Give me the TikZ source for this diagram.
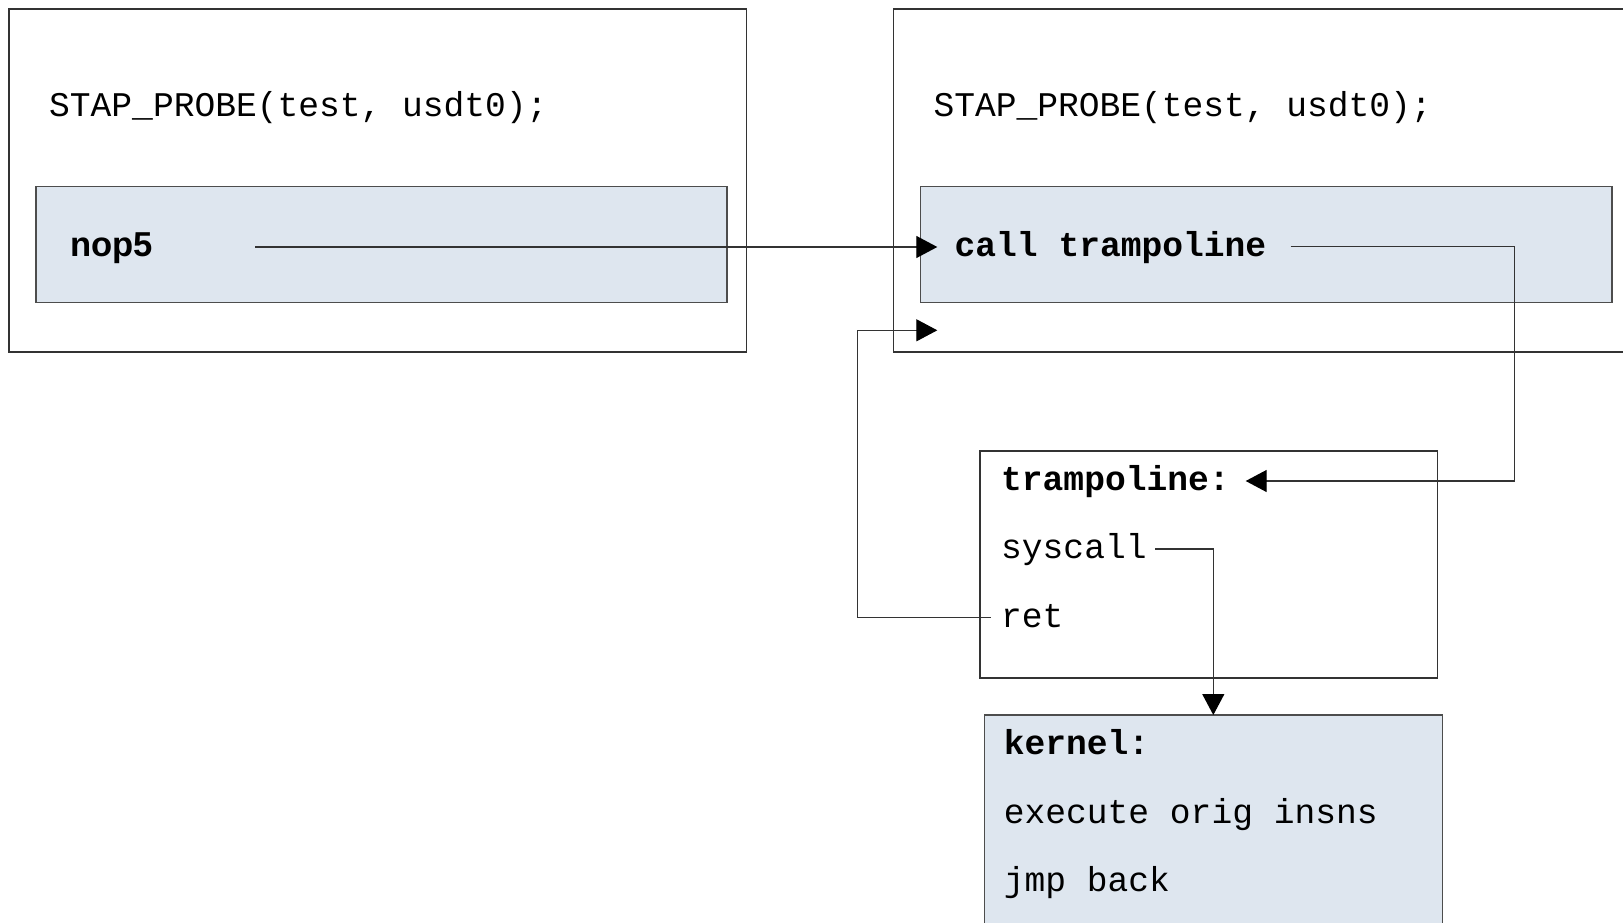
\documentclass[tikz,border=0pt]{standalone}
\usepackage{fontspec}
\setmainfont{Liberation Sans}
\setmonofont{Liberation Mono}
\usetikzlibrary{arrows.meta}
\definecolor{boxfill}{HTML}{DEE6EF}
\definecolor{linegray}{HTML}{333333}
\definecolor{boxline}{HTML}{4D4D4D}
\begin{document}
\begin{tikzpicture}[x=1pt,y=-1pt,
  outerbox/.style={draw=linegray, line width=1.3pt, fill=white, anchor=north west, inner sep=0pt, outer sep=0pt},
  innerbox/.style={draw=boxline, line width=1.3pt, fill=boxfill, anchor=north west, inner sep=0pt, outer sep=0pt},
  code/.style={font=\fontsize{34.6}{40}\selectfont\ttfamily, anchor=base west, inner sep=0pt},
  bcode/.style={code, font=\fontsize{34.6}{40}\selectfont\ttfamily\bfseries},
  sanslabel/.style={font=\fontsize{34.6}{40}\selectfont\bfseries, anchor=base west, inner sep=0pt},
  conn/.style={draw=linegray, line width=1.3pt},
  arr/.style={conn, -{Triangle[length=21pt,width=22pt,color=black]}}
]
\useasboundingbox (0,0) rectangle (1623,923);
\clip (0,0) rectangle (1623,923);

% boxes
\node[outerbox, minimum width=737.5pt, minimum height=343pt] (leftbox) at (9,9) {};
\node[innerbox, minimum width=691pt, minimum height=115.5pt] (nopbox) at (36,186.7) {};
\node[outerbox, minimum width=760pt, minimum height=343pt] (rightbox) at (893.7,9) {};
\node[innerbox, minimum width=691.3pt, minimum height=115.5pt] (callbox) at (920.7,186.7) {};
\node[outerbox, minimum width=457.7pt, minimum height=227pt] (trampbox) at (980,451) {};
\node[innerbox, minimum width=458pt, minimum height=240pt] (kernbox) at (984.3,715) {};

% texts
\node[code] (probeL) at (49,116.7) {STAP\_PROBE(test, usdt0);};
\node[sanslabel] (nop) at (70,256) {nop5};
\node[code] (probeR) at (933.3,116.7) {STAP\_PROBE(test, usdt0);};
\node[bcode] (call) at (954.5,256) {call trampoline};
\node[bcode] (tramp) at (1001,490) {trampoline:};
\node[code] (sysc) at (1001,558.3) {syscall};
\node[code] (ret) at (1001,627.7) {ret};
\node[bcode] (kern) at (1003.7,754) {kernel:};
\node[code] (exec) at (1003.7,823.3) {execute orig insns};
\node[code] (jmp) at (1003.7,891.7) {jmp back};

% connector end points
\coordinate (nopout) at (255,247);
\coordinate (callin) at (937.3,247);
\coordinate (callout) at (1290.7,246.7);
\coordinate (callturn) at (1514.3,481);
\coordinate (trampin) at (1245.7,481);
\coordinate (sysout) at (1155,549);
\coordinate (kernin) at (1213.3,715);
\coordinate (retout) at (990.7,617.3);
\coordinate (retturn) at (857.3,617.3);
\coordinate (backin) at (937.3,330.3);

% connectors
\draw[arr] (nopout) -- (callin);
\draw[arr] (callout) -| (callturn) -- (trampin);
\draw[arr] (sysout) -| (kernin);
\draw[arr] (retout) -- (retturn) |- (backin);
\end{tikzpicture}
\end{document}
